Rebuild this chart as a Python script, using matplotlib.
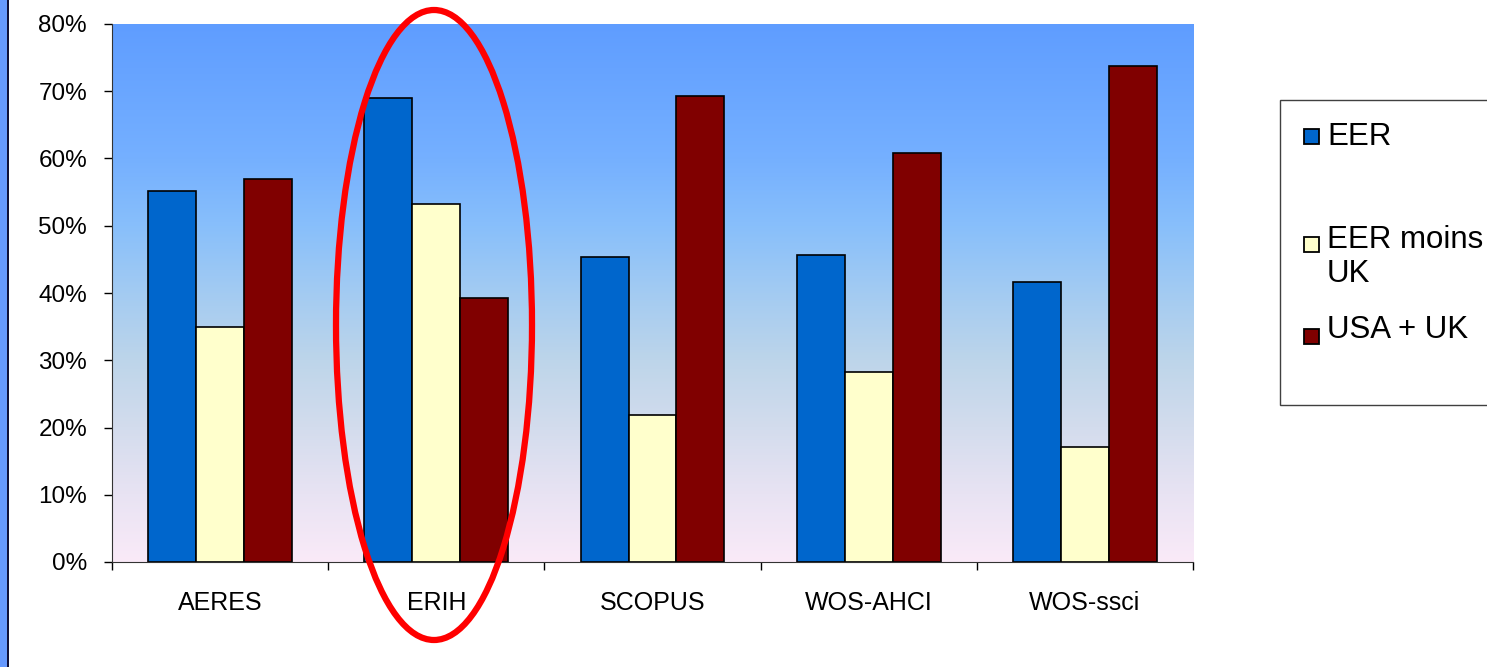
import numpy as np
import matplotlib
matplotlib.use("Agg")
import matplotlib.pyplot as plt
import matplotlib.patches as mpatches
from matplotlib.colors import LinearSegmentedColormap

plt.rcParams["font.family"] = ["Liberation Sans", "DejaVu Sans"]

categories = ["AERES", "ERIH", "SCOPUS", "WOS-AHCI", "WOS-ssci"]
series_names = ["EER", "EER moins\nUK", "USA + UK"]
eer = [55.1, 69.0, 45.3, 45.6, 41.7]
eer_moins_uk = [34.9, 53.2, 21.8, 28.3, 17.1]
usa_uk = [56.9, 39.3, 69.3, 60.8, 73.8]
colors = ["#0066cc", "#ffffcc", "#800000"]

W, H = 1487, 667
fig = plt.figure(figsize=(W / 100, H / 100), dpi=100)
ax = fig.add_axes([112 / W, (H - 562) / H, 1081 / W, 538 / H])

# background gradient (pink at bottom -> blue at top)
grad = LinearSegmentedColormap.from_list("bg", [
    (0.0, "#faeaf8"), (0.125, "#e8e3f3"), (0.25, "#d3dced"), (0.375, "#bdd5ea"),
    (0.5, "#a3cbf2"), (0.625, "#88bffb"), (0.75, "#75b0ff"), (1.0, "#5f9dff")])
ax.imshow(np.linspace(0, 1, 256).reshape(-1, 1), cmap=grad, origin="lower",
          extent=[-0.5, 4.5, 0, 80], aspect="auto", zorder=0)

x = np.arange(len(categories))
w = 0.222
for i, (vals, col) in enumerate(zip((eer, eer_moins_uk, usa_uk), colors)):
    ax.bar(x + (i - 1) * w, vals, w, color=col, edgecolor="black", lw=1.2, zorder=2)

ax.set_xlim(-0.5, 4.5)
ax.set_ylim(0, 80)
ax.set_yticks(np.arange(0, 81, 10))
ax.set_yticklabels([f"{v}%" for v in range(0, 81, 10)], fontsize=17.5)
ax.set_xticks(np.arange(-0.5, 4.6, 1))
ax.set_xticklabels([])
ax.set_xticks(x, minor=True)
ax.set_xticklabels(categories, minor=True, fontsize=18)
ax.tick_params(axis="x", which="minor", length=0, pad=21)
ax.tick_params(axis="x", which="major", length=6, width=1, direction="out")
ax.tick_params(axis="y", length=6, width=1, direction="out", pad=12)
for s in ("top", "right"):
    ax.spines[s].set_visible(False)
for s in ("left", "bottom"):
    ax.spines[s].set_color("#333333")

# legend drawn by hand so it can run off the right edge like the slide
fig.patches.append(mpatches.Rectangle((1280 / W, (H - 405) / H), 260 / W, 305 / H,
                                      transform=fig.transFigure, facecolor="white",
                                      edgecolor="#404040", lw=1))
square_y = [136, 244, 336]
text_y = [137, 240, 330]
for name, col, sy, ty in zip(series_names, colors, square_y, text_y):
    fig.patches.append(mpatches.Rectangle((1304 / W, (H - sy) / H - 7.5 / H), 15 / W, 15 / H,
                                          transform=fig.transFigure, facecolor=col,
                                          edgecolor="black", lw=1.3))
    for k, line in enumerate(name.split("\n")):
        fig.text(1327 / W, (H - ty - 34 * k) / H, line, fontsize=22.5,
                 va="center", ha="left")

# left slide border
fig.patches.append(mpatches.Rectangle((0, 0), 7 / W, 1, transform=fig.transFigure,
                                      facecolor="#6699ff", edgecolor="none"))
fig.patches.append(mpatches.Rectangle((7 / W, 0), 1.5 / W, 1, transform=fig.transFigure,
                                      facecolor="#10103a", edgecolor="none"))

# red ellipse around ERIH
fig.patches.append(mpatches.Ellipse((434 / W, (H - 325) / H), 196 / W, 630 / H,
                                    transform=fig.transFigure, fill=False,
                                    edgecolor="#ff0000", lw=4.5, zorder=10))

fig.savefig("out.png", dpi=100)
